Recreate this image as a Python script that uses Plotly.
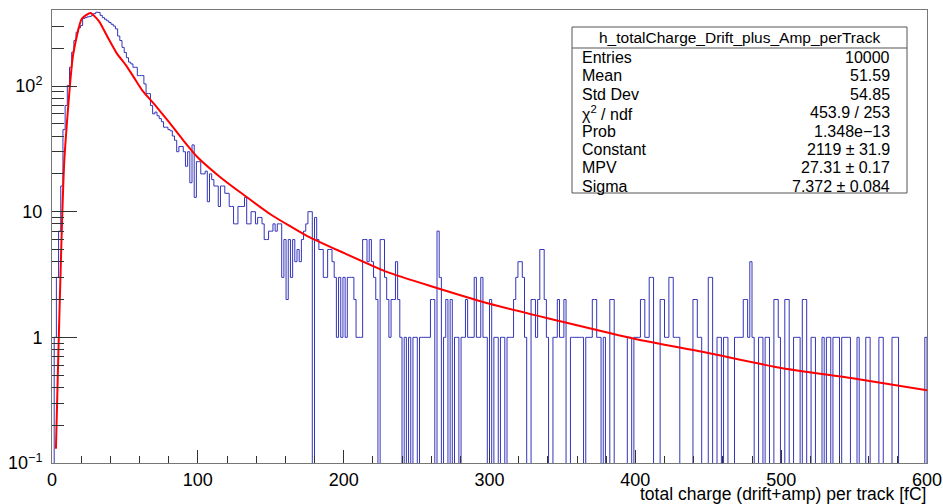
import numpy as np
import plotly.graph_objects as go

# ---------------- data ----------------
x_min, x_max, n_bins = 0.0, 600.0, 400   # histogram binning, 1.5 fC per bin

counts = [
    0, 1, 3, 7, 16, 45, 70, 101, 141, 186,
    230, 268, 290, 303, 345, 350, 355, 358, 365, 377,
    387, 385, 365, 350, 340, 330, 320, 310, 300, 285,
    250, 230, 203, 185, 168, 155, 150, 141, 141, 121,
    121, 121, 104, 87, 87, 70, 60, 62, 58, 55,
    52, 47, 47, 45, 44, 40, 37, 30, 33, 33,
    30, 23, 30, 17, 34, 13, 25, 25, 20, 20,
    21, 12, 20, 18, 16, 16, 11, 16, 16, 14,
    14, 11, 11, 8, 8, 11, 11, 11, 13, 8,
    8, 10, 10, 8, 9, 9, 8, 6, 6, 7,
    7, 8, 7, 8, 8, 3, 6, 2, 6, 3,
    6, 4, 5, 4, 6, 7, 8, 10, 10, 0,
    9, 6, 5, 5, 3, 3, 5, 5, 4, 3,
    1, 3, 1, 3, 1, 3, 3, 3, 2, 1,
    1, 1, 6, 6, 4, 6, 4, 3, 2, 0,
    6, 6, 3, 2, 1, 2, 2, 4, 2, 1,
    0, 1, 0, 1, 0, 1, 1, 0, 1, 1,
    1, 1, 1, 2, 2, 0, 7, 3, 0, 1,
    2, 0, 2, 0, 1, 1, 0, 1, 1, 2,
    1, 1, 1, 3, 1, 1, 3, 1, 1, 0,
    2, 0, 1, 1, 0, 1, 1, 0, 1, 1,
    1, 2, 3, 4, 4, 3, 1, 0, 0, 2,
    2, 1, 2, 5, 5, 2, 1, 0, 0, 1,
    1, 2, 1, 1, 2, 0, 0, 1, 1, 1,
    1, 1, 1, 0, 1, 1, 1, 2, 2, 1,
    1, 0, 1, 0, 0, 2, 2, 0, 0, 0,
    0, 0, 0, 1, 1, 0, 1, 1, 1, 2,
    2, 1, 1, 3, 3, 0, 0, 0, 2, 2,
    1, 1, 3, 3, 1, 1, 1, 0, 0, 0,
    0, 0, 0, 2, 2, 1, 1, 0, 0, 0,
    3, 3, 0, 0, 1, 1, 0, 1, 1, 0,
    0, 0, 1, 1, 1, 1, 2, 2, 1, 4,
    1, 0, 0, 1, 1, 0, 1, 1, 0, 0,
    2, 2, 1, 0, 0, 2, 2, 0, 0, 1,
    1, 1, 0, 2, 2, 0, 0, 1, 1, 0,
    0, 0, 1, 0, 1, 1, 0, 1, 1, 1,
    0, 1, 1, 1, 1, 0, 0, 0, 1, 0,
    0, 0, 1, 1, 0, 0, 0, 0, 1, 1,
    0, 0, 0, 0, 1, 1, 1, 0, 0, 0,
    0, 0, 0, 0, 0, 0, 0, 0, 0, 1,
]

# Landau fit curve
fit_x = [2.7, 8.4, 14.4, 20.4, 26.4, 32.4, 38.4, 44.4, 50.4, 56.4,
         62.0, 70, 80, 90, 100, 115, 130, 150, 175, 200,
         230, 260, 300, 350, 400, 450, 500, 550, 600]
fit_y = [0.13, 25, 175, 343, 381, 326, 242, 182, 148, 116,
         92, 72, 52, 37, 27, 19, 14, 9.5, 6.4, 4.7,
         3.3, 2.55, 1.85, 1.33, 0.97, 0.75, 0.57, 0.47, 0.38]

hist_name = "h_totalCharge_Drift_plus_Amp_perTrack"
stats_labels = ["Entries", "Mean", "Std Dev", "χ<sup>2</sup> / ndf", "Prob",
                "Constant", "MPV", "Sigma"]
stats_values = ["10000", "51.59", "54.85", "453.9 / 253", "1.348e−13",
                "2119 ± 31.9", "27.31 ± 0.17", "7.372 ± 0.084"]
x_title = "total charge (drift+amp) per track [fC]"
x_tickvals = [0, 100, 200, 300, 400, 500, 600]
y_tickvals = [0.1, 1, 10, 100]
y_ticktext = ["10<sup>−1</sup>", "1", "10", "10<sup>2</sup>"]

# ---------------- figure ----------------
W, H = 943, 504
L, R, T, B = 52, 927, 10, 463
FONT = "Liberation Sans, Arial, Helvetica, sans-serif"

edges = np.linspace(x_min, x_max, n_bins + 1)
floor = 1e-4   # empty bins drop to the bottom of the frame, as in ROOT
ys = [c if c > 0 else floor for c in counts]
step_x = [edges[0]] + list(edges[:-1]) + [edges[-1], edges[-1]]
step_y = [floor] + ys + [ys[-1], floor]

fig = go.Figure()
fig.add_trace(go.Scatter(x=step_x, y=step_y, mode="lines", line_shape="hv",
                         line=dict(color="#3434ba", width=1), hoverinfo="skip",
                         showlegend=False))
fig.add_trace(go.Scatter(x=fit_x, y=fit_y, mode="lines",
                         line=dict(color="#ff0000", width=2, shape="spline",
                                   smoothing=0.5),
                         hoverinfo="skip", showlegend=False))


def px(xp):
    return (xp - L) / (R - L)


def py(yp):
    return (B - yp) / (B - T)


fig.update_layout(
    width=W, height=H,
    margin=dict(l=L, r=W - R, t=T, b=H - B, autoexpand=False),
    paper_bgcolor="white", plot_bgcolor="white",
    font=dict(family=FONT, color="black", size=18),
    showlegend=False,
    xaxis=dict(range=[x_min, x_max], showgrid=False, zeroline=False, automargin=False,
               showline=True, mirror=True, linecolor="#777777", linewidth=1,
               ticks="inside", ticklen=13, tickwidth=1, tickcolor="#333333",
               tickvals=x_tickvals, tickfont=dict(size=18), ticklabelstandoff=0,
               minor=dict(dtick=20, ticks="inside", ticklen=7, tickcolor="#333333",
                          showgrid=False)),
    yaxis=dict(type="log", range=[-1, 2.605], showgrid=False, zeroline=False,
               automargin=False,
               showline=True, mirror=True, linecolor="#777777", linewidth=1,
               ticks="inside", ticklen=25, tickwidth=1, tickcolor="#333333",
               tickvals=y_tickvals, ticktext=y_ticktext, tickfont=dict(size=18),
               ticklabelstandoff=5,
               minor=dict(dtick="D1", ticks="inside", ticklen=12, tickcolor="#333333",
                          showgrid=False)),
)

shapes = [
    dict(type="rect", xref="paper", yref="paper", x0=px(572), x1=px(907),
         y0=py(193), y1=py(27), line=dict(color="#555555", width=1),
         fillcolor="white", layer="above"),
    dict(type="line", xref="paper", yref="paper", x0=px(572), x1=px(907),
         y0=py(48), y1=py(48), line=dict(color="#555555", width=1), layer="above"),
]
annotations = [
    dict(text=hist_name, xref="paper", yref="paper", x=px(739.5), y=py(37.5),
         xanchor="center", yanchor="middle", showarrow=False,
         font=dict(size=15.5, family=FONT, color="black")),
    dict(text=x_title, xref="paper", yref="paper", x=px(928), y=py(494),
         xanchor="right", yanchor="middle", showarrow=False,
         font=dict(size=17.5, family=FONT, color="black")),
]
for i, (lab, val) in enumerate(zip(stats_labels, stats_values)):
    yc = 57.5 + i * 18.4
    annotations.append(dict(text=lab, xref="paper", yref="paper", x=px(580), y=py(yc),
                            xanchor="left", yanchor="middle", showarrow=False,
                            font=dict(size=16, family=FONT, color="black")))
    annotations.append(dict(text=val, xref="paper", yref="paper", x=px(892), y=py(yc),
                            xanchor="right", yanchor="middle", showarrow=False,
                            font=dict(size=16, family=FONT, color="black")))

fig.update_layout(shapes=shapes, annotations=annotations)
fig.write_html("out.html", config=dict(displayModeBar=False),
               post_script="document.body.style.margin='0';document.body.style.padding='0';")
